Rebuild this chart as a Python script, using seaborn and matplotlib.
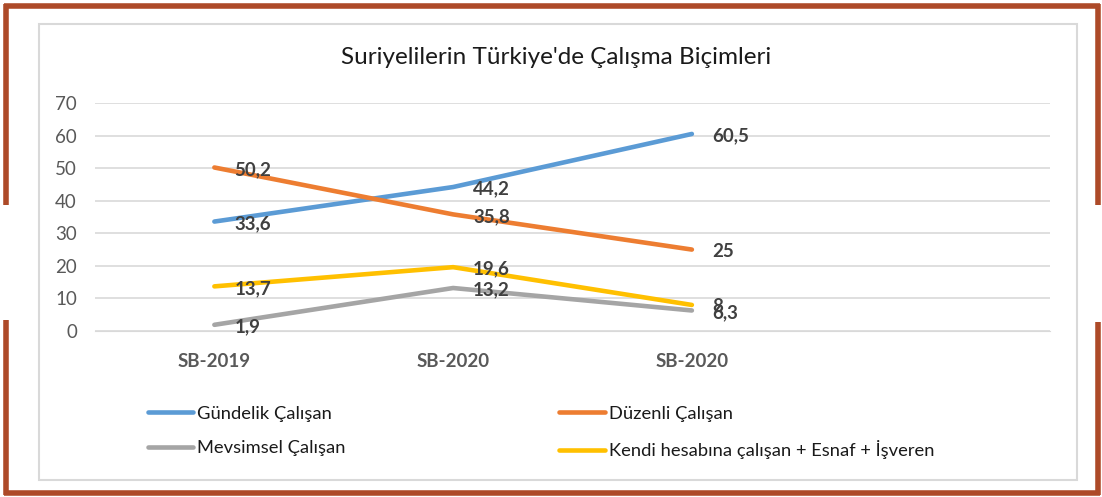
import numpy as np
import pandas as pd
import matplotlib
matplotlib.use('Agg')
import matplotlib.pyplot as plt
import seaborn as sns
from matplotlib.lines import Line2D
from matplotlib.patches import Rectangle

# --- Data ---
periods = ['SB-2019', 'SB-2020', 'SB-2020']
series_names = ['Gündelik Çalışan', 'Düzenli Çalışan', 'Mevsimsel Çalışan',
                'Kendi hesabına çalışan + Esnaf + İşveren']
gundelik = [33.6, 44.2, 60.5]
duzenli = [50.2, 35.8, 25]
mevsimsel = [1.9, 13.2, 6.3]
kendi = [13.7, 19.6, 8]
colors = ['#5B9BD5', '#ED7D31', '#A5A5A5', '#FFC000']

values = [gundelik, duzenli, mevsimsel, kendi]
rows = []
for name, vals in zip(series_names, values):
    for i, v in enumerate(vals):
        rows.append({'pos': i, 'value': v, 'series': name})
df = pd.DataFrame(rows)

sns.set_style('white')
plt.rcParams['font.family'] = ['Lato', 'DejaVu Sans']

fig = plt.figure(figsize=(11.02, 4.97), dpi=100)
W, H = 1102, 497

# decorative brown frame
brown = '#AD4A28'
def fline(x0, y0, x1, y1, lw=4, c=brown):
    fig.add_artist(Line2D([x0 / W, x1 / W], [1 - y0 / H, 1 - y1 / H],
                          color=c, lw=lw, solid_capstyle='butt'))
fline(4, 6, 1100, 6)
fline(4, 493, 1100, 493)
fline(6, 4, 6, 205)
fline(6, 320, 6, 495)
fline(1098, 4, 1098, 205)
fline(1098, 322, 1098, 495)

# inner chart box
fig.add_artist(Rectangle((39 / W, 1 - 480 / H), (1077 - 39) / W, (480 - 24) / H,
                         fill=False, edgecolor='#D9D9D9', lw=1.5))

ax = fig.add_axes([95 / W, 1 - 331 / H, (1050 - 95) / W, (331 - 103) / H])

sns.lineplot(data=df, x='pos', y='value', hue='series', hue_order=series_names,
             palette=colors, lw=3.3, ax=ax, legend=False, sort=False)
for line in ax.lines:
    line.set_solid_capstyle('round')
    line.set_solid_joinstyle('round')

# data labels
for vals in values:
    for i, v in enumerate(vals):
        txt = f'{v:g}'.replace('.', ',')
        ax.annotate(txt, (i, v), xytext=(20, -2), textcoords='offset pixels',
                    ha='left', va='center', fontsize=13.5, fontweight='bold',
                    color='#404040')

ax.set_xlim(-0.5, 3.5)
ax.set_ylim(0, 70)
ax.set_yticks(np.arange(0, 71, 10))
ax.set_xticks(range(len(periods)))
ax.set_xticklabels(periods, fontweight='bold')
ax.tick_params(axis='x', length=0, pad=16, labelsize=13.5, labelcolor='#595959')
ax.tick_params(axis='y', length=0, pad=13, labelsize=13.5, labelcolor='#595959')
ax.set_xlabel('')
ax.set_ylabel('')
ax.grid(axis='y', color='#D9D9D9', lw=1.2)
for s in ax.spines.values():
    s.set_visible(False)
ax.spines['bottom'].set_visible(True)
ax.spines['bottom'].set_color('#D9D9D9')
ax.set_axisbelow(True)

fig.text(556 / W, 1 - 57 / H, "Suriyelilerin Türkiye'de Çalışma Biçimleri",
         ha='center', va='center', fontsize=17.5, color='#1a1a1a')

# legend (two columns)
handles = [Line2D([0], [0], color=c, lw=3.3, solid_capstyle='round') for c in colors]
order = [0, 2, 1, 3]
leg = fig.legend([handles[i] for i in order], [series_names[i] for i in order],
                 ncol=2, loc='upper left', bbox_to_anchor=(131 / W, 1 - 389 / H),
                 frameon=False, fontsize=13.2, handlelength=2.5, handletextpad=0.2,
                 labelspacing=1.02, columnspacing=11.65)
for t in leg.get_texts():
    t.set_color('#1a1a1a')

fig.savefig('out.png', dpi=100)
